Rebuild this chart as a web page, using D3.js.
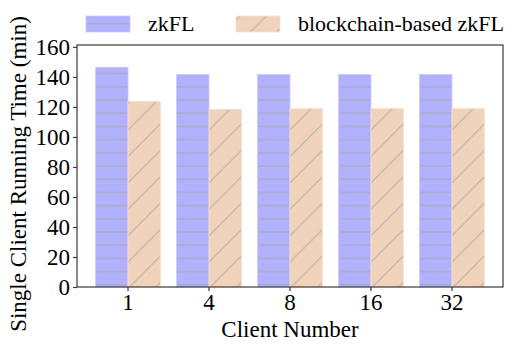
<!DOCTYPE html>
<html>
<head>
<meta charset="utf-8">
<script src="https://cdn.jsdelivr.net/npm/d3@7"></script>
<style>
  body { margin: 0; background: #fff; }
  text { font-family: "Liberation Serif", "Times New Roman", serif; fill: #000; }
</style>
</head>
<body>
<div id="chart"></div>
<script>
const categories = ["1", "4", "8", "16", "32"];
const seriesNames = ["zkFL", "blockchain-based zkFL"];
const zkflValues = [146.5, 141.6, 141.6, 141.6, 141.6];
const chainValues = [123.8, 118.5, 118.9, 118.9, 118.9];
const yTicks = [0, 20, 40, 60, 80, 100, 120, 140, 160];

const W = 518, H = 350;
const margin = { left: 77, right: 15, top: 45, bottom: 63 };

var svg = d3.select("#chart").append("svg")
    .attr("width", W)
    .attr("height", H);

var defs = svg.append("defs");

// horizontal hatch for zkFL
var hp = defs.append("pattern")
    .attr("id", "hatchH")
    .attr("patternUnits", "userSpaceOnUse")
    .attr("width", 13.2).attr("height", 13.2)
    .attr("y", 1);
hp.append("rect").attr("width", 13.2).attr("height", 13.2).attr("fill", "#b1b1fe");
hp.append("line").attr("x1", 0).attr("x2", 13.2).attr("y1", 6.6).attr("y2", 6.6)
    .attr("stroke", "#a9a9b0").attr("stroke-width", 1.1);

// diagonal hatch for blockchain-based zkFL
var ds = 26.4;
var dp = defs.append("pattern")
    .attr("id", "hatchD")
    .attr("patternUnits", "userSpaceOnUse")
    .attr("width", ds).attr("height", ds)
    .attr("y", 4);
dp.append("rect").attr("width", ds).attr("height", ds).attr("fill", "#f1d3bb");
dp.append("path")
    .attr("d", "M-2," + (ds + 2) + " L" + (ds + 2) + ",-2 M-" + ds / 2 + "," + ds / 2 + " L" + ds / 2 + ",-" + ds / 2 +
               " M" + ds / 2 + "," + (ds * 1.5) + " L" + (ds * 1.5) + "," + ds / 2)
    .attr("stroke", "#b3aeaa").attr("stroke-width", 1);

var x0 = d3.scaleBand()
    .domain(categories)
    .range([margin.left, W - margin.right])
    .paddingInner(0.2)
    .paddingOuter(0.23);

var x1 = d3.scaleBand()
    .domain([0, 1])
    .range([0, x0.bandwidth()]);

var y = d3.scaleLinear()
    .domain([0, 161.3])
    .range([H - margin.bottom, margin.top]);

var fills = ["url(#hatchH)", "url(#hatchD)"];
var edges = ["#c9c9ff", "#f6e0cf"];

var data = categories.map(function(c, i) {
    return { cat: c, vals: [zkflValues[i], chainValues[i]] };
});

var groups = svg.selectAll(".grp")
    .data(data)
    .enter().append("g")
    .attr("class", "grp")
    .attr("transform", function(d) { return "translate(" + x0(d.cat) + ",0)"; });

groups.selectAll("rect")
    .data(function(d) { return d.vals; })
    .enter().append("rect")
    .attr("x", function(d, i) { return x1(i); })
    .attr("y", function(d) { return y(d); })
    .attr("width", x1.bandwidth())
    .attr("height", function(d) { return y(0) - y(d); })
    .attr("fill", function(d, i) { return fills[i]; })
    .attr("stroke", function(d, i) { return edges[i]; })
    .attr("stroke-width", 0.8);

// frame
svg.append("rect")
    .attr("x", margin.left).attr("y", margin.top)
    .attr("width", W - margin.left - margin.right)
    .attr("height", H - margin.top - margin.bottom)
    .attr("fill", "none").attr("stroke", "#3a3a3a").attr("stroke-width", 1.2);

// y axis
var yAxis = svg.append("g")
    .attr("transform", "translate(" + margin.left + ",0)")
    .call(d3.axisLeft(y).tickValues(yTicks).tickSize(4).tickPadding(3));
yAxis.select(".domain").remove();
yAxis.selectAll("line").attr("stroke", "#3a3a3a").attr("stroke-width", 1.2);
yAxis.selectAll("text").style("font-size", "23px").attr("fill", "#000");

// x axis
var xAxis = svg.append("g")
    .attr("transform", "translate(0," + (H - margin.bottom) + ")")
    .call(d3.axisBottom(x0).tickSize(4).tickPadding(3));
xAxis.select(".domain").remove();
xAxis.selectAll("line").attr("stroke", "#3a3a3a").attr("stroke-width", 1.2);
xAxis.selectAll("text").style("font-size", "23px").attr("fill", "#000");

svg.append("text")
    .attr("x", (margin.left + W - margin.right) / 2)
    .attr("y", 337)
    .attr("text-anchor", "middle")
    .style("font-size", "23px")
    .text("Client Number");

svg.append("text")
    .attr("transform", "translate(26," + (margin.top + (H - margin.bottom - margin.top) / 2 + 8) + ") rotate(-90)")
    .attr("text-anchor", "middle")
    .style("font-size", "23px")
    .text("Single Client Running Time (min)");

// legend
var legendX = [86, 236];
var leg = svg.selectAll(".leg")
    .data(seriesNames)
    .enter().append("g")
    .attr("class", "leg")
    .attr("transform", function(d, i) { return "translate(" + legendX[i] + ",16)"; });
leg.append("rect")
    .attr("width", 44).attr("height", 16)
    .attr("fill", function(d, i) { return fills[i]; })
    .attr("stroke", function(d, i) { return edges[i]; })
    .attr("stroke-width", 0.8);
leg.append("text")
    .attr("x", 62).attr("y", 15)
    .style("font-size", "22px")
    .text(function(d) { return d; });
</script>
</body>
</html>
